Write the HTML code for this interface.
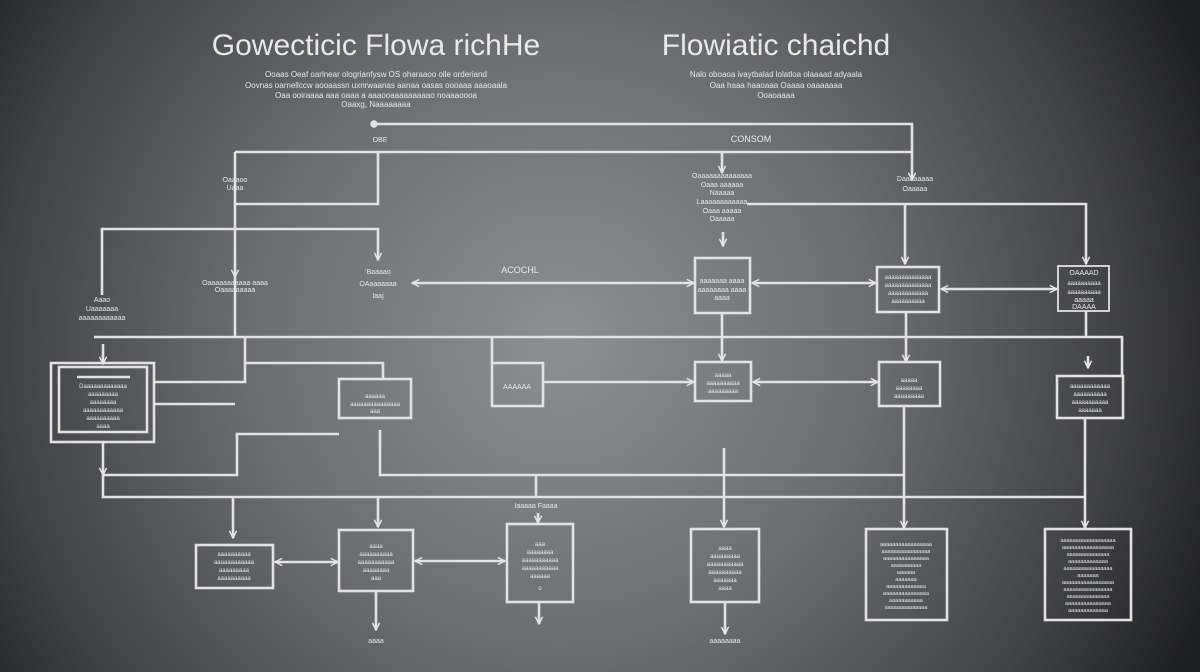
<!DOCTYPE html>
<html><head><meta charset="utf-8"><style>
html,body{margin:0;padding:0;width:1200px;height:672px;overflow:hidden;background:#555}
svg{display:block}
text{font-family:"Liberation Sans",sans-serif;fill:#e8e8e8}
</style></head><body>
<svg width="1200" height="672" viewBox="0 0 1200 672" xmlns="http://www.w3.org/2000/svg">
<defs>
<radialGradient id="bg" cx="560" cy="340" r="700" gradientUnits="userSpaceOnUse">
<stop offset="0" stop-color="#8d9093"/><stop offset="0.45" stop-color="#6a6c6f"/><stop offset="0.8" stop-color="#404144"/><stop offset="1" stop-color="#1e1f21"/>
</radialGradient>
<marker id="a" viewBox="0 0 10 10" refX="9" refY="5" markerWidth="9" markerHeight="9" orient="auto" markerUnits="userSpaceOnUse">
<path d="M1,1 L9,5 L1,9" fill="none" stroke="#e6e6e6" stroke-width="1.6"/></marker>
<marker id="s" viewBox="0 0 10 10" refX="1" refY="5" markerWidth="9" markerHeight="9" orient="auto" markerUnits="userSpaceOnUse">
<path d="M9,1 L1,5 L9,9" fill="none" stroke="#e6e6e6" stroke-width="1.6"/></marker>
</defs>
<rect width="1200" height="672" fill="url(#bg)"/>

<text x="376" y="55" font-size="30" text-anchor="middle" font-weight="300">Gowecticic Flowa richHe</text>
<text x="776" y="55" font-size="30" text-anchor="middle">Flowiatic chaichd</text>
<g font-size="8" text-anchor="middle" fill="#ddd">
<text x="376" y="77">Ooaas Oeaf oarlnear ologrianfysw OS oharaaoo olle orderiand</text>
<text x="376" y="88">Oovnas oarnellccw aooaassn uxnrwaanas aanaa oasas oooaaa aaaoaala</text>
<text x="376" y="98">Oaa ooiraaaa aaa oaaa a aaaooaaaaaaaaao noaaaoooa</text>
<text x="376" y="107">Oaaxg, Naaaaaaaa</text>
<text x="776" y="77">Nalo oboaoa ivaytbalad lolatloa olaaaad adyaala</text>
<text x="776" y="88">Oaa haaa haaoaaa Oaaaa oaaaaaaa</text>
<text x="776" y="98">Ooaoaaaa</text>
</g>

<g fill="none" stroke="#e2e2e2" stroke-width="2.6">
<!-- top -->
<circle cx="374" cy="124" r="2.5" fill="#e2e2e2"/>
<polyline points="374,124 912,124 912,180" marker-end="url(#a)"/>
<polyline points="235,152 912,152"/>
<polyline points="722,152 722,173" marker-end="url(#a)"/>
<polyline points="378,152 378,204 235,204"/>
<polyline points="235,152 235,277" marker-end="url(#a)"/>
<polyline points="235,277 235,337"/>
<polyline points="102,295 102,229 378,229 378,260" marker-end="url(#a)"/>
<polyline points="723,232 723,246" marker-end="url(#a)"/>
<line x1="412" y1="283" x2="694" y2="283" marker-start="url(#s)" marker-end="url(#a)"/>
<polyline points="747,204 1086,204 1086,264" marker-end="url(#a)"/>
<polyline points="905,204 905,264" marker-end="url(#a)"/>
<line x1="752" y1="283" x2="876" y2="283" marker-start="url(#s)" marker-end="url(#a)"/>
<line x1="941" y1="289" x2="1057" y2="289" marker-start="url(#s)" marker-end="url(#a)"/>
<rect x="695" y="258" width="55" height="55"/>
<rect x="877" y="267" width="62" height="45"/>
<rect x="1058" y="266" width="51" height="45" stroke-width="1.8"/>
<!-- middle bus -->
<polyline points="94,337 1122,337 1122,377"/>
<polyline points="722,313 722,337"/>
<polyline points="722,337 722,361" marker-end="url(#a)"/>
<polyline points="906,312 906,362" marker-end="url(#a)"/>
<polyline points="1086,311 1086,337"/>
<polyline points="1088,356 1088,368" marker-end="url(#a)"/>
<polyline points="245,337 245,382 154,382"/>
<polyline points="245,363 383,363 383,379"/>
<polyline points="492,337 492,363"/>
<line x1="154" y1="404" x2="235" y2="404"/>
<line x1="103" y1="344" x2="103" y2="364" marker-end="url(#a)"/>
<rect x="51" y="363" width="103" height="79"/>
<rect x="59" y="367" width="88" height="65"/>
<line x1="77" y1="377" x2="130" y2="377"/>
<rect x="339" y="379" width="72" height="39"/>
<rect x="492" y="363" width="51" height="43"/>
<line x1="543" y1="382" x2="694" y2="382" marker-end="url(#a)"/>
<line x1="753" y1="382" x2="878" y2="382" marker-start="url(#s)" marker-end="url(#a)"/>
<rect x="695" y="362" width="56" height="39"/>
<rect x="879" y="362" width="61" height="44"/>
<rect x="1057" y="376" width="66" height="42"/>
<!-- lower connectors -->
<polyline points="339,434 237,434 237,475 103,475"/>
<polyline points="103,442 103,475" marker-end="url(#a)"/>
<polyline points="103,475 103,497 1085,497"/>
<polyline points="380,430 380,475 903,475"/>
<polyline points="536,475 536,497"/>
<polyline points="233,497 233,538" marker-end="url(#a)"/>
<polyline points="378,497 378,527" marker-end="url(#a)"/>
<polyline points="538,513 538,523" marker-end="url(#a)"/>
<polyline points="724,448 724,527" marker-end="url(#a)"/>
<polyline points="904,406 904,528" marker-end="url(#a)"/>
<polyline points="1085,418 1085,528" marker-end="url(#a)"/>
<!-- bottom boxes -->
<rect x="196" y="545" width="77" height="43"/>
<rect x="339" y="530" width="74" height="61"/>
<rect x="507" y="524" width="66" height="78"/>
<rect x="691" y="529" width="68" height="73"/>
<rect x="866" y="529" width="81" height="91"/>
<rect x="1045" y="529" width="86" height="91"/>
<line x1="275" y1="562" x2="338" y2="562" marker-start="url(#s)" marker-end="url(#a)"/>
<line x1="415" y1="561" x2="505" y2="561" marker-start="url(#s)" marker-end="url(#a)"/>
<polyline points="376,591 376,630" marker-end="url(#a)"/>
<polyline points="539,602 539,624" marker-end="url(#a)"/>
<polyline points="725,602 725,634" marker-end="url(#a)"/>
</g>

<g font-size="7" text-anchor="middle" fill="#e4e4e4">
<text x="380" y="142">OBE</text>
<text x="751" y="142" font-size="9">CONSOM</text>
<text x="520" y="273" font-size="9">ACOCHL</text>
<text x="235" y="182">Oaaaoo</text><text x="235" y="190">Uaaa</text>
<text x="235" y="285">Oaaaaaaaaaaa aaaa</text><text x="235" y="292">Oaaaaaaaaa</text>
<text x="378" y="274">'Baaaao</text><text x="378" y="286">OAaaaaaaa</text><text x="378" y="298">Iaaj</text>
<text x="102" y="302">Aaao</text><text x="102" y="311">Uaaaaaaa</text><text x="102" y="320">aaaaaaaaaaaa</text>
<text x="722" y="178">Oaaaaaaaaaaaaaa</text><text x="722" y="187">Oaaa aaaaaa</text><text x="722" y="195">Naaaaa</text><text x="722" y="204">Laaaaaaaaaaaa</text><text x="722" y="213">Oaaa aaaaa</text><text x="722" y="221">Oaaaaa</text>
<text x="915" y="181">Daaaaaaaa</text><text x="915" y="191">Oaaaaa</text>
<text x="722" y="283">aaaaaaa aaaa</text><text x="722" y="292">aaaaaaaa aaaa</text><text x="722" y="300">aaaa</text>
<text x="908" y="279" font-size="6">aaaaaaaaaaaaaa</text><text x="908" y="287" font-size="6">aaaaaaaaaaaaaa</text><text x="908" y="295" font-size="6">aaaaaaaaaaaa</text><text x="908" y="303" font-size="6">aaaaaaaaaa</text>
<text x="1084" y="275">OAAAAD</text><text x="1084" y="285" font-size="6">aaaaaaaaaa</text><text x="1084" y="294" font-size="6">aaaaaaaaaa</text><text x="1084" y="302">aaaaa</text><text x="1084" y="309">DAAAA</text>
<text x="103" y="388" font-size="6">Daaaaaaaaaaaaa</text><text x="103" y="396" font-size="6">aaaaaaaaa</text><text x="103" y="404" font-size="6">aaaaaaaa</text><text x="103" y="412" font-size="6">aaaaaaaaaaaa</text><text x="103" y="420" font-size="6">aaaaaaaaaa</text><text x="103" y="428" font-size="6">aaaa</text>
<text x="375" y="398" font-size="6">aaaaaa</text><text x="375" y="406" font-size="6">aaaaaaaaaaaaaaa</text><text x="375" y="413" font-size="6">aaa</text>
<text x="517" y="389">AAAAAA</text>
<text x="723" y="377" font-size="6">aaaaa</text><text x="723" y="385" font-size="6">aaaaaaaaaa</text><text x="723" y="393" font-size="6">aaaaaaaaa</text>
<text x="909" y="382" font-size="6">aaaaa</text><text x="909" y="390" font-size="6">aaaaaaaa</text><text x="909" y="398" font-size="6">aaaaaaaaa</text>
<text x="1090" y="388" font-size="6">aaaaaaaaaaaa</text><text x="1090" y="396" font-size="6">aaaaaaaaaa</text><text x="1090" y="404" font-size="6">aaaaaaaaaaa</text><text x="1090" y="412" font-size="6">aaaaaaa</text>
<text x="536" y="508">Iaaaaa Faaaa</text>
<text x="234" y="556" font-size="6">aaaaaaaaaa</text><text x="234" y="564" font-size="6">aaaaaaaaaaaa</text><text x="234" y="572" font-size="6">aaaaaaaaa</text><text x="234" y="580" font-size="6">aaaaaaaaaa</text>
<text x="376" y="548" font-size="6">aaaa</text><text x="376" y="556" font-size="6">aaaaaaaaaa</text><text x="376" y="564" font-size="6">aaaaaaaaaaa</text><text x="376" y="572" font-size="6">aaaaaaaa</text><text x="376" y="580" font-size="6">aaa</text>
<text x="540" y="546" font-size="6">aaa</text><text x="540" y="554" font-size="6">aaaaaaaa</text><text x="540" y="562" font-size="6">aaaaaaaaaaa</text><text x="540" y="570" font-size="6">aaaaaaaaaaa</text><text x="540" y="578" font-size="6">aaaaaa</text><text x="540" y="590" font-size="6">o</text>
<text x="725" y="550" font-size="6">aaaa</text><text x="725" y="558" font-size="6">aaaaaaaaa</text><text x="725" y="566" font-size="6">aaaaaaaaaaa</text><text x="725" y="574" font-size="6">aaaaaaaaaa</text><text x="725" y="582" font-size="6">aaaaaaa</text><text x="725" y="590" font-size="6">aaaa</text>
<g font-size="5.5">
<text x="906" y="546">aaaaaaaaaaaaaaaaa</text><text x="906" y="553">aaaaaaaaaaaaaaaa</text><text x="906" y="560">aaaaaaaaaaaaaaa</text><text x="906" y="567">aaaaaaaaaa</text><text x="906" y="574">aaaaaa</text><text x="906" y="581">aaaaaaa</text><text x="906" y="588">aaaaaaaaaaaaa</text><text x="906" y="595">aaaaaaaaaaaaaaa</text><text x="906" y="602">aaaaaaaaaaa</text><text x="906" y="609">aaaaaaaaaaaaaa</text>
<text x="1088" y="542">aaaaaaaaaaaaaaaaaa</text><text x="1088" y="549">aaaaaaaaaaaaaaaaa</text><text x="1088" y="556">aaaaaaaaaaaaaa</text><text x="1088" y="563">aaaaaaaaaaaaa</text><text x="1088" y="570">aaaaaaaaaaaaaaaa</text><text x="1088" y="577">aaaaaaa</text><text x="1088" y="584">aaaaaaaaaaaaaaaaa</text><text x="1088" y="591">aaaaaaaaaaaaaaaa</text><text x="1088" y="598">aaaaaaaaaaaaaa</text><text x="1088" y="605">aaaaaaaaaaaaaaa</text><text x="1088" y="612">aaaaaaaaaaaaa</text>
</g>
<text x="376" y="643">aaaa</text>
<text x="725" y="643">aaaaaaaa</text>
</g>
</svg>
</body></html>
